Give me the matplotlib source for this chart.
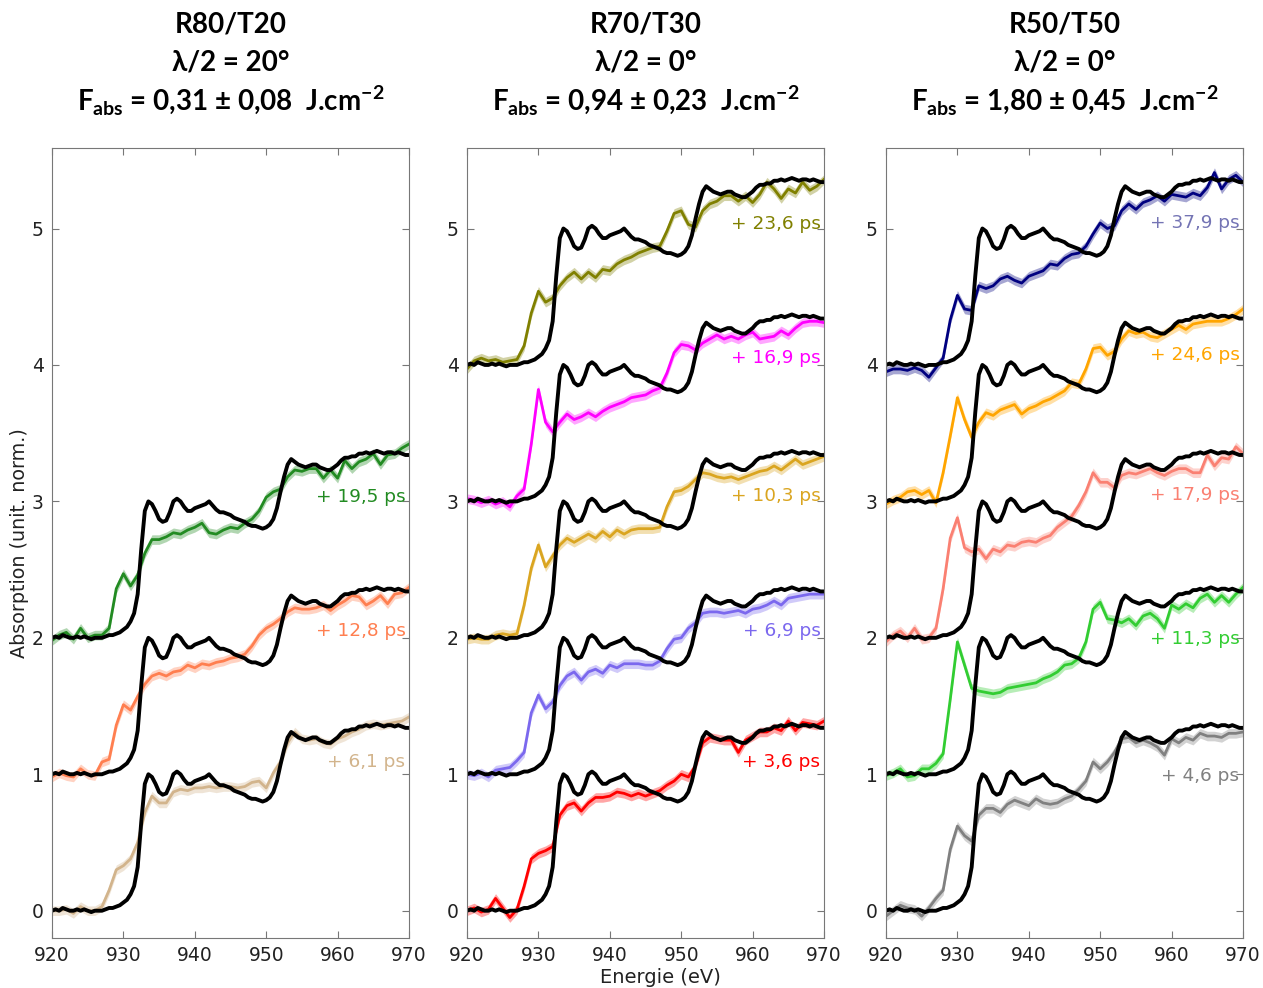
import numpy as np
import matplotlib
matplotlib.use('Agg')
import matplotlib.pyplot as plt

plt.rcParams['font.family'] = ['DejaVu Sans']
plt.rcParams['mathtext.fontset'] = 'custom'
plt.rcParams['mathtext.rm'] = 'Lato'
plt.rcParams['mathtext.bf'] = 'Lato:bold'

# energy grids (eV)
energy_ref = np.arange(920, 970.25, 0.5)
energy = np.arange(920, 971, 1)

# static reference spectrum (black), 0.5 eV step
ref_black = [
    0.00, 0.01, 0.00, 0.02, 0.01, 0.00, 0.00, 0.01, 0.00, 0.01,
    0.00, -0.01, 0.00, 0.00, 0.00, 0.01, 0.02, 0.02, 0.03, 0.04,
    0.06, 0.08, 0.12, 0.18, 0.32, 0.65, 0.93, 1.00, 0.98, 0.93,
    0.87, 0.85, 0.86, 0.92, 1.00, 1.02, 1.00, 0.96, 0.93, 0.93,
    0.95, 0.96, 0.97, 0.98, 1.00, 0.97, 0.94, 0.92, 0.92, 0.91,
    0.90, 0.88, 0.87, 0.86, 0.85, 0.83, 0.82, 0.82, 0.81, 0.80,
    0.81, 0.83, 0.87, 0.95, 1.07, 1.18, 1.27, 1.31, 1.29, 1.27,
    1.26, 1.25, 1.26, 1.27, 1.27, 1.25, 1.24, 1.23, 1.23, 1.25,
    1.27, 1.30, 1.32, 1.32, 1.33, 1.33, 1.35, 1.35, 1.36, 1.35,
    1.36, 1.37, 1.36, 1.35, 1.36, 1.36, 1.35, 1.36, 1.35, 1.34,
    1.34]

# pumped spectra, 1 eV step (relative to their offset)
tan_61 = [
    0.00, 0.00, 0.01, -0.02, 0.03, 0.00, 0.00, 0.03, 0.15, 0.30,
    0.33, 0.38, 0.50, 0.72, 0.84, 0.79, 0.79, 0.87, 0.89, 0.88,
    0.90, 0.90, 0.91, 0.90, 0.91, 0.91, 0.90, 0.91, 0.94, 0.95,
    0.90, 1.01, 1.09, 1.23, 1.31, 1.26, 1.25, 1.26, 1.23, 1.22,
    1.26, 1.28, 1.31, 1.33, 1.36, 1.37, 1.36, 1.37, 1.38, 1.39,
    1.42]
coral_128 = [
    -0.02, 0.01, -0.01, -0.02, 0.04, 0.00, -0.01, 0.09, 0.11, 0.36,
    0.51, 0.47, 0.57, 0.66, 0.72, 0.74, 0.72, 0.75, 0.76, 0.80,
    0.78, 0.81, 0.80, 0.82, 0.83, 0.85, 0.86, 0.88, 0.94, 1.02,
    1.07, 1.10, 1.14, 1.19, 1.22, 1.21, 1.21, 1.22, 1.24, 1.20,
    1.24, 1.27, 1.31, 1.30, 1.24, 1.27, 1.31, 1.25, 1.32, 1.33,
    1.37]
green_195 = [
    -0.02, 0.02, 0.04, -0.01, 0.07, 0.00, 0.02, 0.02, 0.07, 0.36,
    0.47, 0.38, 0.46, 0.62, 0.72, 0.72, 0.74, 0.77, 0.76, 0.79,
    0.81, 0.84, 0.77, 0.76, 0.79, 0.81, 0.80, 0.84, 0.87, 0.93,
    1.03, 1.07, 1.09, 1.18, 1.23, 1.22, 1.24, 1.24, 1.17, 1.23,
    1.17, 1.30, 1.24, 1.29, 1.31, 1.35, 1.27, 1.34, 1.35, 1.39,
    1.42]
red_36 = [
    0.00, 0.02, -0.01, 0.01, 0.09, 0.02, -0.05, 0.01, 0.18, 0.38,
    0.42, 0.44, 0.47, 0.70, 0.77, 0.79, 0.73, 0.79, 0.83, 0.83,
    0.84, 0.87, 0.86, 0.84, 0.86, 0.84, 0.86, 0.88, 0.92, 0.95,
    1.00, 0.98, 1.06, 1.23, 1.27, 1.26, 1.25, 1.25, 1.16, 1.25,
    1.28, 1.31, 1.31, 1.34, 1.32, 1.39, 1.32, 1.38, 1.37, 1.36,
    1.39]
slate_69 = [
    0.00, -0.01, 0.01, -0.02, 0.03, 0.04, 0.05, 0.10, 0.16, 0.45,
    0.58, 0.48, 0.53, 0.65, 0.72, 0.75, 0.69, 0.75, 0.77, 0.74,
    0.80, 0.78, 0.81, 0.81, 0.81, 0.80, 0.80, 0.83, 0.92, 0.99,
    1.00, 1.07, 1.11, 1.18, 1.19, 1.19, 1.18, 1.19, 1.20, 1.18,
    1.21, 1.22, 1.24, 1.27, 1.24, 1.29, 1.30, 1.31, 1.32, 1.32,
    1.32]
gold_103 = [
    -0.01, 0.00, -0.01, -0.01, 0.02, 0.03, 0.02, 0.03, 0.24, 0.51,
    0.68, 0.52, 0.60, 0.68, 0.73, 0.70, 0.73, 0.76, 0.73, 0.78,
    0.74, 0.79, 0.76, 0.79, 0.80, 0.80, 0.80, 0.81, 0.96, 1.07,
    1.08, 1.11, 1.16, 1.21, 1.20, 1.18, 1.17, 1.18, 1.16, 1.18,
    1.20, 1.22, 1.23, 1.26, 1.23, 1.27, 1.31, 1.27, 1.29, 1.31,
    1.33]
magenta_169 = [
    0.02, 0.01, -0.01, 0.01, -0.02, 0.00, -0.04, 0.04, 0.09, 0.42,
    0.82, 0.58, 0.51, 0.58, 0.64, 0.60, 0.62, 0.65, 0.62, 0.66,
    0.69, 0.71, 0.73, 0.76, 0.77, 0.78, 0.81, 0.83, 0.94, 1.09,
    1.15, 1.14, 1.11, 1.16, 1.19, 1.22, 1.19, 1.21, 1.19, 1.22,
    1.24, 1.19, 1.20, 1.21, 1.25, 1.22, 1.27, 1.31, 1.32, 1.32,
    1.31]
olive_236 = [
    -0.03, 0.03, 0.05, 0.03, 0.04, 0.02, 0.03, 0.04, 0.14, 0.38,
    0.54, 0.46, 0.49, 0.58, 0.64, 0.68, 0.63, 0.68, 0.64, 0.70,
    0.69, 0.74, 0.77, 0.79, 0.82, 0.84, 0.86, 0.87, 0.98, 1.11,
    1.13, 1.03, 1.01, 1.13, 1.18, 1.20, 1.24, 1.24, 1.20, 1.24,
    1.19, 1.25, 1.34, 1.29, 1.22, 1.29, 1.26, 1.34, 1.28, 1.31,
    1.36]
gray_46 = [
    -0.04, 0.00, 0.04, 0.02, 0.01, -0.04, 0.02, 0.09, 0.15, 0.45,
    0.62, 0.55, 0.51, 0.70, 0.75, 0.75, 0.72, 0.78, 0.81, 0.79,
    0.77, 0.82, 0.79, 0.78, 0.79, 0.82, 0.84, 0.89, 0.95, 1.09,
    1.04, 1.09, 1.16, 1.26, 1.27, 1.23, 1.25, 1.23, 1.20, 1.14,
    1.26, 1.23, 1.27, 1.25, 1.30, 1.28, 1.28, 1.27, 1.30, 1.30,
    1.31]
lime_113 = [
    -0.01, 0.01, 0.04, -0.02, -0.01, 0.04, 0.04, 0.08, 0.15, 0.55,
    0.97, 0.80, 0.63, 0.61, 0.60, 0.59, 0.60, 0.63, 0.64, 0.65,
    0.66, 0.67, 0.70, 0.72, 0.75, 0.80, 0.81, 0.85, 0.97, 1.21,
    1.26, 1.14, 1.13, 1.11, 1.14, 1.09, 1.16, 1.18, 1.14, 1.07,
    1.24, 1.21, 1.25, 1.22, 1.29, 1.32, 1.26, 1.31, 1.26, 1.32,
    1.37]
salmon_179 = [
    -0.03, 0.02, 0.05, 0.00, 0.07, -0.01, 0.00, 0.07, 0.36, 0.73,
    0.88, 0.66, 0.63, 0.65, 0.58, 0.65, 0.63, 0.68, 0.67, 0.70,
    0.71, 0.70, 0.73, 0.75, 0.81, 0.85, 0.89, 0.97, 1.07, 1.21,
    1.14, 1.14, 1.10, 1.19, 1.21, 1.20, 1.22, 1.24, 1.21, 1.19,
    1.22, 1.24, 1.24, 1.21, 1.21, 1.34, 1.26, 1.32, 1.31, 1.40,
    1.35]
orange_246 = [
    -0.02, 0.01, 0.03, 0.07, 0.08, 0.05, 0.08, -0.01, 0.21, 0.48,
    0.76, 0.60, 0.47, 0.58, 0.65, 0.63, 0.67, 0.69, 0.71, 0.64,
    0.68, 0.70, 0.73, 0.75, 0.78, 0.81, 0.87, 0.86, 0.97, 1.12,
    1.13, 1.07, 1.10, 1.19, 1.25, 1.23, 1.24, 1.21, 1.20, 1.23,
    1.26, 1.29, 1.26, 1.30, 1.31, 1.32, 1.32, 1.32, 1.34, 1.37,
    1.41]
navy_379 = [
    -0.05, -0.03, -0.03, -0.04, -0.02, -0.04, -0.09, -0.02, 0.05, 0.33,
    0.51, 0.41, 0.40, 0.58, 0.56, 0.58, 0.63, 0.65, 0.62, 0.60,
    0.65, 0.67, 0.69, 0.74, 0.73, 0.78, 0.81, 0.82, 0.87, 0.96,
    1.04, 1.00, 1.02, 1.13, 1.18, 1.14, 1.19, 1.21, 1.24, 1.20,
    1.25, 1.24, 1.23, 1.26, 1.24, 1.30, 1.41, 1.29, 1.36, 1.39,
    1.34]

titles = [
    ['R80/T20', 'λ/2 = 20°', r'F$_{\mathbf{abs}}$ = 0,31 ± 0,08  J.cm$^{\mathbf{-2}}$'],
    ['R70/T30', 'λ/2 = 0°', r'F$_{\mathbf{abs}}$ = 0,94 ± 0,23  J.cm$^{\mathbf{-2}}$'],
    ['R50/T50', 'λ/2 = 0°', r'F$_{\mathbf{abs}}$ = 1,80 ± 0,45  J.cm$^{\mathbf{-2}}$'],
]

panel_curves = [
    [tan_61, coral_128, green_195],
    [red_36, slate_69, gold_103, magenta_169, olive_236],
    [gray_46, lime_113, salmon_179, orange_246, navy_379],
]
panel_colors = [
    ['tan', 'coral', 'forestgreen'],
    ['red', 'mediumslateblue', 'goldenrod', 'magenta', 'olive'],
    ['gray', 'limegreen', 'salmon', 'orange', 'navy'],
]
panel_label_colors = [
    ['tan', 'coral', 'forestgreen'],
    ['red', 'mediumslateblue', 'goldenrod', 'magenta', 'olive'],
    ['gray', 'limegreen', 'salmon', 'orange', '#7474b4'],
]
panel_labels = [
    ['+ 6,1 ps', '+ 12,8 ps', '+ 19,5 ps'],
    ['+ 3,6 ps', '+ 6,9 ps', '+ 10,3 ps', '+ 16,9 ps', '+ 23,6 ps'],
    ['+ 4,6 ps', '+ 11,3 ps', '+ 17,9 ps', '+ 24,6 ps', '+ 37,9 ps'],
]
label_heights = [
    [1.09, 2.05, 3.03],
    [1.09, 2.05, 3.04, 4.05, 5.03],
    [0.99, 1.99, 3.05, 4.07, 5.04],
]

W, H = 1263, 988
fig = plt.figure(figsize=(W / 100, H / 100), dpi=100)
lefts = [52, 467, 886]
ax_w = 357

for p in range(3):
    ax = fig.add_axes([lefts[p] / W, 1 - 938 / H, ax_w / W, 790 / H])
    for k, curve in enumerate(panel_curves[p]):
        y = np.array(curve) + k
        c = panel_colors[p][k]
        ax.fill_between(energy, y - 0.035, y + 0.035, color=c, alpha=0.35, lw=0)
        ax.plot(energy, y, color=c, lw=2, solid_joinstyle='round')
        ax.plot(energy_ref, np.array(ref_black) + k, color='black', lw=2.8,
                solid_joinstyle='round')
        ax.text(969.5, label_heights[p][k], panel_labels[p][k],
                color=panel_label_colors[p][k], ha='right', va='center',
                fontsize=13.3)
    ax.set_xlim(920, 970)
    ax.set_ylim(-0.2, 5.59)
    ax.set_xticks([920, 930, 940, 950, 960, 970])
    ax.set_yticks([0, 1, 2, 3, 4, 5])
    ax.tick_params(direction='in', length=5, top=True, right=True,
                   labelsize=13.5, color='#777777', labelcolor='#222222', pad=6)
    for s in ax.spines.values():
        s.set_color('#777777')
    cx = (lefts[p] + ax_w / 2) / W
    for i, line in enumerate(titles[p]):
        fig.text(cx, 1 - (25 + 38 * i) / H, line, ha='center', va='center',
                 fontsize=20, fontweight='bold', family='Lato')

fig.text(20 / W, 0.45, 'Absorption (unit. norm.)', rotation=90,
         ha='center', va='center', fontsize=13.8, color='#222222')
fig.text(660 / W, 1 - 977 / H, 'Energie (eV)', ha='center', va='center',
         fontsize=14, color='#222222')

fig.savefig('out.png', dpi=100)
